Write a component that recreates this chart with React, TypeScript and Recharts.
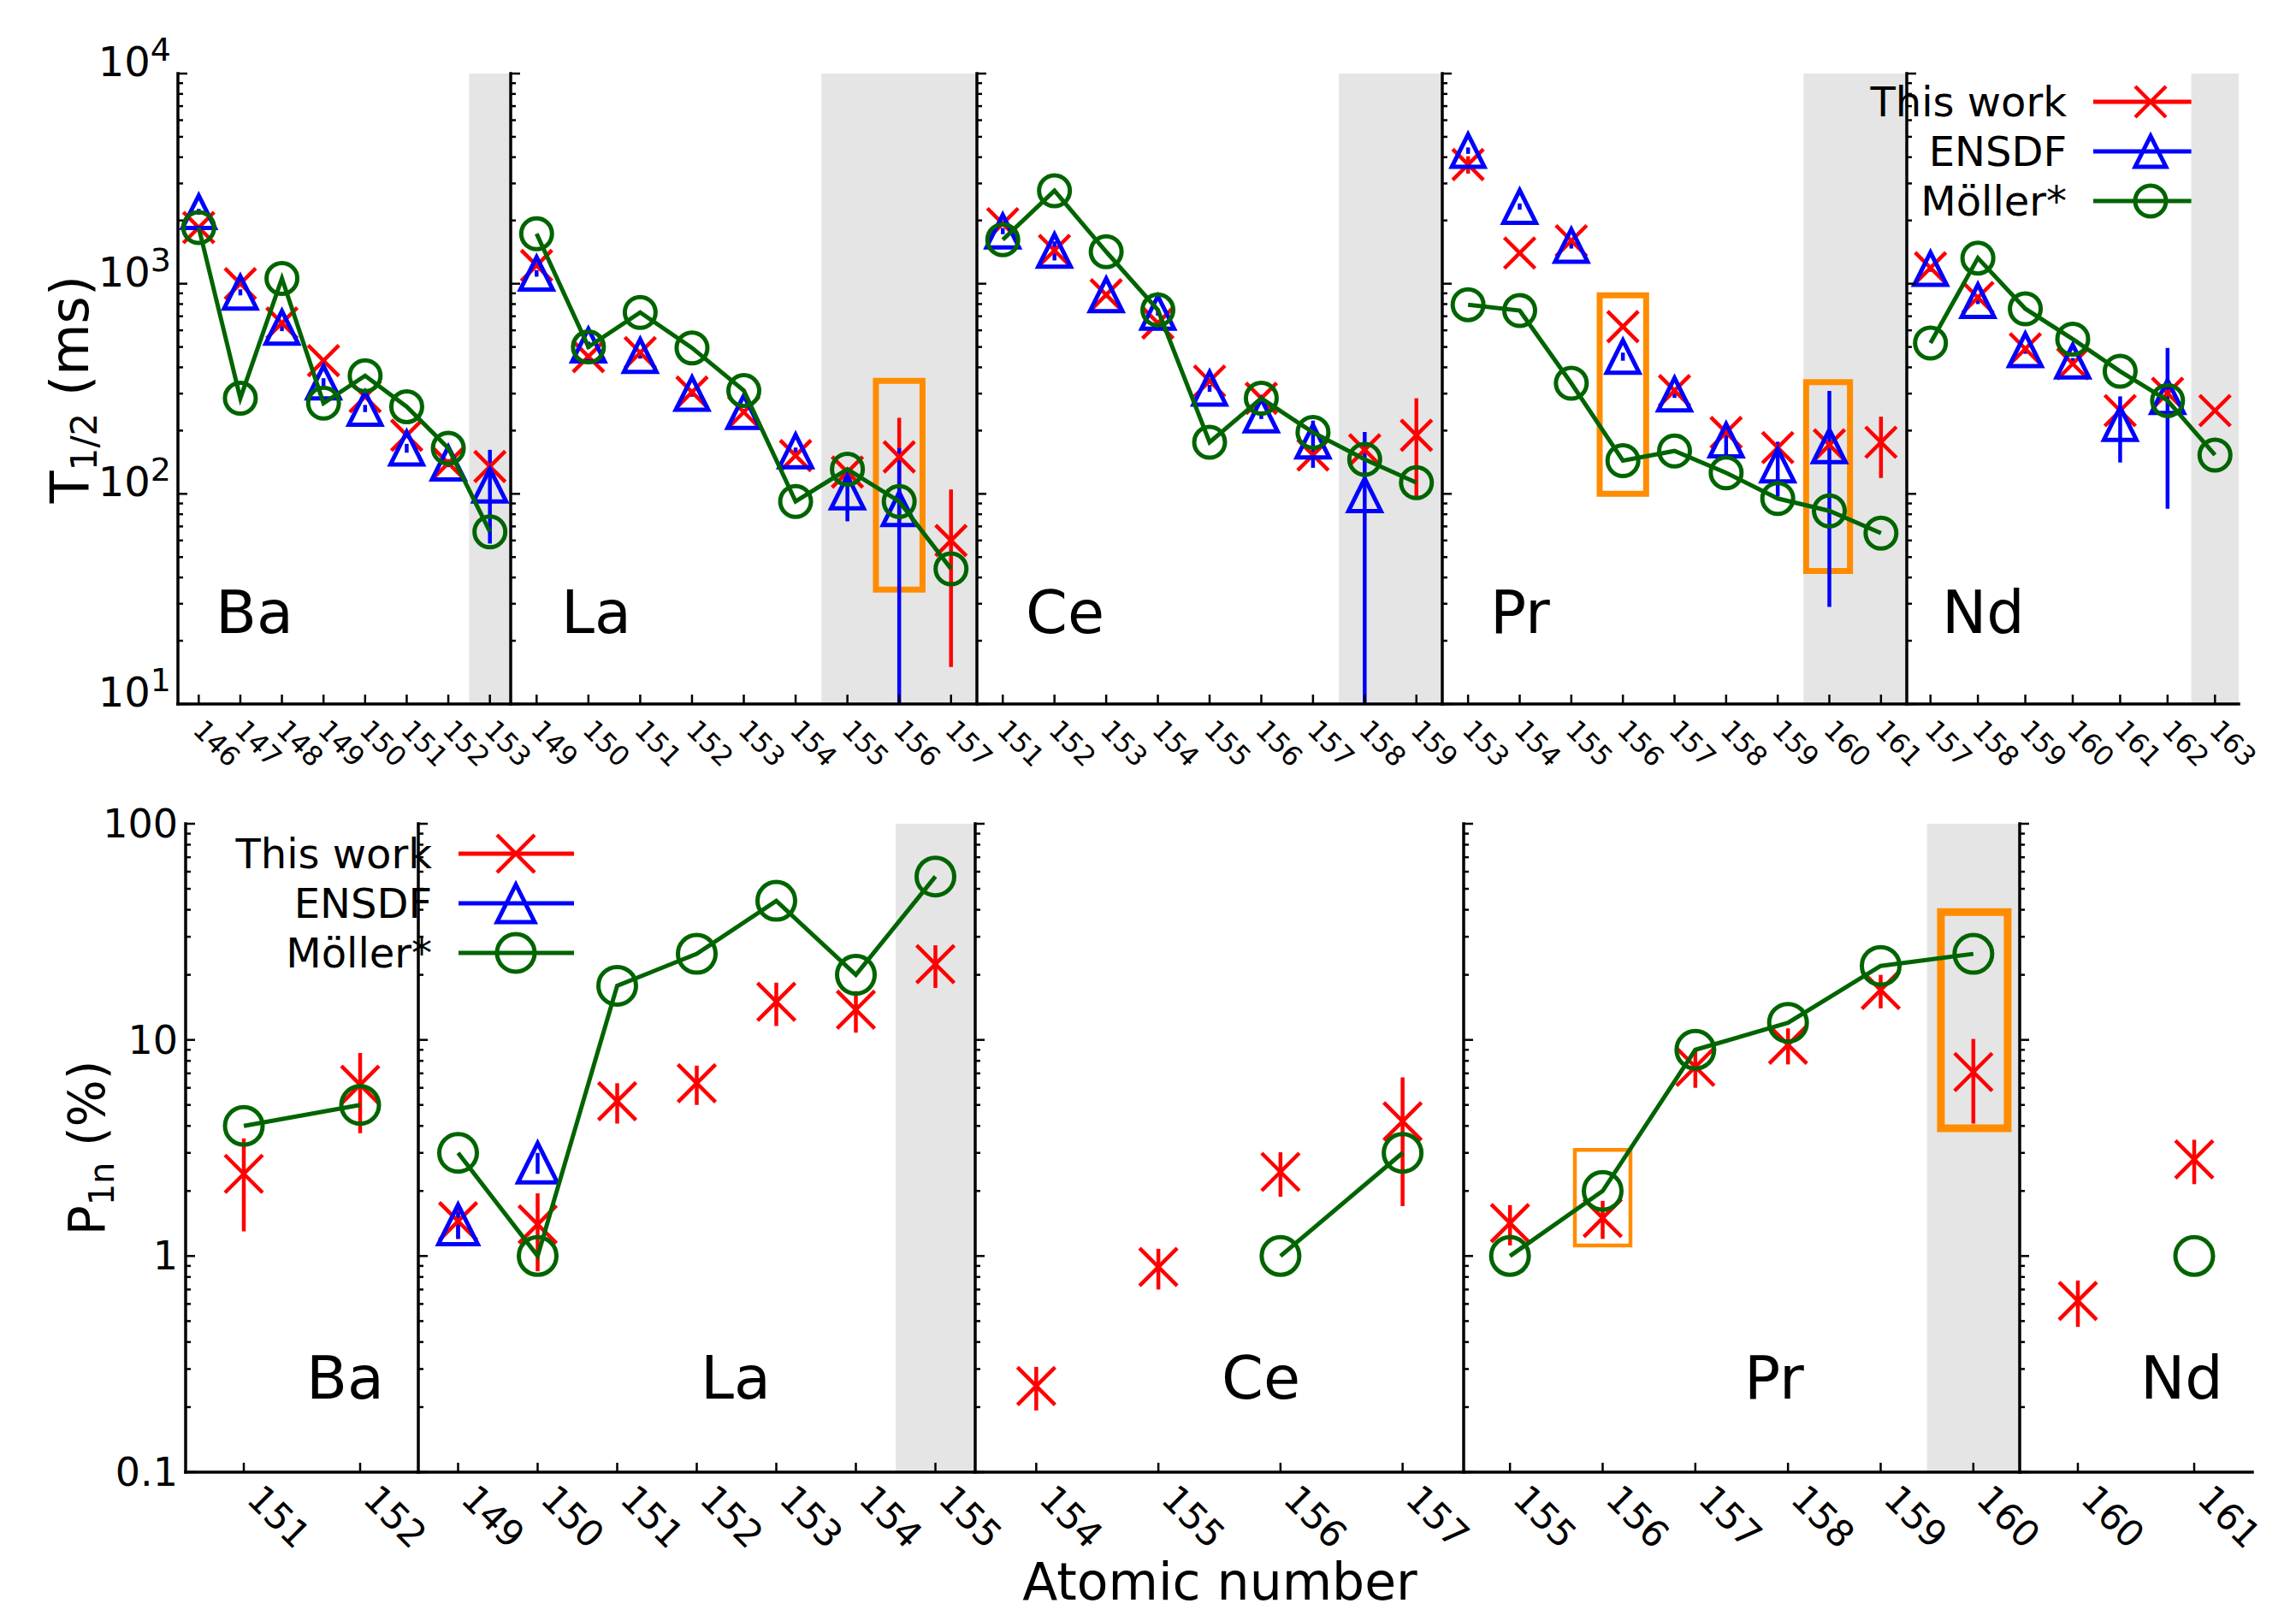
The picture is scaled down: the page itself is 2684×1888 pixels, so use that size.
import React from "react";
import {
  ComposedChart,
  Scatter,
  XAxis,
  YAxis,
  ErrorBar,
  ReferenceArea,
  Customized,
} from "recharts";

const RED = "#ff0000";
const BLUE = "#0000ff";
const GREEN = "#006400";
const ORANGE = "#ff8c00";
const SHADE = "#e5e5e5";
const FONT = "DejaVu Sans";

type Err = number | [number, number] | null;

// ---- top row: half-lives T1/2 (ms)
const BA_T_A = [146, 147, 148, 149, 150, 151, 152, 153];
const BA_T_THIS = [1850, 1000, 650, 430, 290, 190, 140, 135];
const BA_T_THIS_ERR: Err[] = [0, 0, 0, 0, 0, 0, 0, 0];
const BA_T_ENSDF = [2200, 910, 620, 340, 255, 165, 140, 110];
const BA_T_ENSDF_ERR: Err[] = [70, 30, 25, 15, 10, 8, 6, 52];
const BA_T_MOLLER = [1850, 285, 1060, 270, 365, 260, 165, 66];

const LA_T_A = [149, 150, 151, 152, 153, 154, 155, 156, 157];
const LA_T_THIS = [1220, 450, 470, 305, 245, 152, 127, 150, 60];
const LA_T_THIS_ERR: Err[] = [0, 0, 0, 0, 0, 0, 0, 80, 45];
const LA_T_ENSDF = [1120, 510, 455, 300, 246, 160, 102, 85, null];
const LA_T_ENSDF_ERR: Err[] = [40, 20, 15, 10, 8, 6, 28, [75, 80], null];
const LA_T_MOLLER = [1730, 500, 730, 495, 310, 92, 131, 92, 44];

const CE_T_A = [151, 152, 153, 154, 155, 156, 157, 158, 159];
const CE_T_THIS = [1930, 1440, 885, 650, 344, 285, 153, 162, 190];
const CE_T_THIS_ERR: Err[] = [0, 0, 0, 0, 0, 0, 0, 0, 95];
const CE_T_ENSDF = [1780, 1440, 885, 730, 318, 237, 178, 99, null];
const CE_T_ENSDF_ERR: Err[] = [60, 150, 30, 25, 12, 10, 45, [89, 98], null];
const CE_T_MOLLER = [1620, 2770, 1420, 750, 176, 285, 196, 146, 113];

const PR_T_A = [153, 154, 155, 156, 157, 158, 159, 160, 161];
const PR_T_THIS = [3690, 1400, 1600, 625, 310, 196, 166, 171, 176];
const PR_T_THIS_ERR: Err[] = [350, 0, 0, 0, 0, 0, 0, 0, 57];
const PR_T_ENSDF = [4300, 2330, 1520, 450, 298, 180, 137, 169, null];
const PR_T_ENSDF_ERR: Err[] = [150, 80, 50, 20, 12, 30, 40, 140, null];
const PR_T_MOLLER = [795, 745, 336, 144, 160, 126, 95, 83, 65];

const ND_T_A = [157, 158, 159, 160, 161, 162, 163];
const ND_T_THIS = [1190, 860, 490, 416, 249, 301, 249];
const ND_T_THIS_ERR: Err[] = [0, 0, 0, 0, 0, 0, 0];
const ND_T_ENSDF = [1180, 830, 484, 428, 216, 290, null];
const ND_T_ENSDF_ERR: Err[] = [40, 30, 20, 15, 75, 205, null];
const ND_T_MOLLER = [522, 1325, 760, 545, 383, 278, 153];

// ---- bottom row: P1n (%)
const BA_P_A = [151, 152];
const BA_P_THIS = [2.4, 6.2];
const BA_P_THIS_ERR: Err[] = [1.1, 2.5];
const BA_P_MOLLER = [4.0, 5.0];

const LA_P_A = [149, 150, 151, 152, 153, 154, 155];
const LA_P_THIS = [1.45, 1.4, 5.2, 6.3, 15, 13.8, 22.4];
const LA_P_THIS_ERR: Err[] = [0.25, 0.55, 1.1, 1.3, 3.4, 3, 5];
const LA_P_ENSDF = [1.4, 2.7, null, null, null, null, null];
const LA_P_ENSDF_ERR: Err[] = [0.2, 0.3, null, null, null, null, null];
const LA_P_MOLLER = [3.0, 1.0, 17.8, 25, 44, 20, 57];

const CE_P_A = [154, 155, 156, 157];
const CE_P_THIS = [0.25, 0.89, 2.45, 4.2];
const CE_P_THIS_ERR: Err[] = [0.057, 0.19, 0.57, 2.5];
const CE_P_MOLLER = [null, null, 1.0, 3.0];

const PR_P_A = [155, 156, 157, 158, 159, 160];
const PR_P_THIS = [1.42, 1.5, 7.5, 9.5, 17, 7.1];
const PR_P_THIS_ERR: Err[] = [0.3, 0.3, 1.5, 1.8, 3, 3];
const PR_P_MOLLER = [1.0, 2.0, 9.0, 12, 22, 25];

const ND_P_A = [160, 161];
const ND_P_THIS = [0.62, 2.8];
const ND_P_THIS_ERR: Err[] = [0.15, 0.65];
const ND_P_MOLLER = [null, 1.0];

// log axis ticks
const MINOR_STEPS = [1, 2, 3, 4, 5, 6, 7, 8, 9];
const T_DECADES = [10, 100, 1000];
const P_DECADES = [0.1, 1, 10];
const T_TICKS = [...T_DECADES.flatMap((d) => MINOR_STEPS.map((m) => +(d * m).toPrecision(6))), 10000];
const P_TICKS = [...P_DECADES.flatMap((d) => MINOR_STEPS.map((m) => +(d * m).toPrecision(6))), 100];

type Pt = { x: number; y: number; e: number | [number, number] };

function pts(a: number[], v: (number | null)[], e?: Err[]): Pt[] {
  const out: Pt[] = [];
  a.forEach((x, i) => {
    const y = v[i];
    if (y == null) return;
    const err = e && e[i] != null ? (e[i] as number | [number, number]) : 0;
    out.push({ x, y, e: err });
  });
  return out;
}

const XMark = ({ cx, cy, s, w = 4.5 }: any) => (
  <g stroke={RED} strokeWidth={w}>
    <line x1={cx - s} y1={cy - s} x2={cx + s} y2={cy + s} />
    <line x1={cx - s} y1={cy + s} x2={cx + s} y2={cy - s} />
  </g>
);
const TriMark = ({ cx, cy, s }: any) => (
  <polygon
    points={`${cx},${cy - s} ${cx - s},${cy + s} ${cx + s},${cy + s}`}
    fill="none"
    stroke={BLUE}
    strokeWidth={5}
    strokeLinejoin="miter"
  />
);
const CircMark = ({ cx, cy, s }: any) => (
  <circle cx={cx} cy={cy} r={s} fill="none" stroke={GREEN} strokeWidth={5} />
);

const TOP = {
  top: 86,
  bottom: 823,
  domain: [10, 10000],
  ticks: T_TICKS,
  ms: 18,
  xfs: 32,
  xdx: 21,
  xdy: 46,
  nameY: 740,
  label: (v: number, x: number, y: number) => (
    <text x={x - 8} y={y + 3} textAnchor="end" fontSize={48} fontFamily={FONT} fill="#000">
      10
      <tspan dy={-18} fontSize={38}>
        {Math.round(Math.log10(v))}
      </tspan>
    </text>
  ),
};

const BOT = {
  top: 963,
  bottom: 1721,
  domain: [0.1, 100],
  ticks: P_TICKS,
  ms: 22,
  xfs: 43,
  xdx: 41,
  xdy: 52,
  nameY: 1635,
  label: (v: number, x: number, y: number) => (
    <text x={x - 9} y={y} textAnchor="end" dominantBaseline="central" fontSize={46} fontFamily={FONT} fill="#000">
      {String(v)}
    </text>
  ),
};

function XTick(props: any) {
  const { x, y, payload, row, top } = props;
  if (top) return <line x1={x} y1={y} x2={x} y2={y + 11} stroke="#000" strokeWidth={2.5} />;
  return (
    <g>
      <line x1={x} y1={y} x2={x} y2={y - 11} stroke="#000" strokeWidth={2.5} />
      <text
        transform={`translate(${x + row.xdx},${y + row.xdy}) rotate(45)`}
        textAnchor="middle"
        dominantBaseline="central"
        fontSize={row.xfs}
        fontFamily={FONT}
        fill="#000"
      >
        {payload.value}
      </text>
    </g>
  );
}

function YTick(props: any) {
  const { x, y, payload, row, side, showLabel } = props;
  const v = payload.value;
  const lg = Math.log10(v);
  const major = Math.abs(lg - Math.round(lg)) < 1e-6;
  const len = major ? 11 : 6;
  const dir = side === "left" ? 1 : -1;
  return (
    <g>
      <line x1={x} y1={y} x2={x + dir * len} y2={y} stroke="#000" strokeWidth={2.5} />
      {showLabel && major ? row.label(v, x, y) : null}
    </g>
  );
}

function LegendSvg({ x0, ys, s }: { x0: number; ys: number[]; s: number }) {
  const items = [
    { label: "This work", color: RED, M: XMark },
    { label: "ENSDF", color: BLUE, M: TriMark },
    { label: "Möller*", color: GREEN, M: CircMark },
  ];
  const mx = x0 + 98;
  return (
    <g>
      {items.map((it, i) => (
        <g key={it.label}>
          <text x={x0} y={ys[i]} textAnchor="end" dominantBaseline="central" fontSize={48} fontFamily={FONT} fill="#000">
            {it.label}
          </text>
          <line x1={x0 + 31} y1={ys[i]} x2={x0 + 166} y2={ys[i]} stroke={it.color} strokeWidth={5} />
          <it.M cx={mx} cy={ys[i]} s={s} />
        </g>
      ))}
    </g>
  );
}

function PanelName({ x, y, text }: { x: number; y: number; text: string }) {
  return (
    <text x={x} y={y} fontSize={70} fontFamily={FONT} fill="#000">
      {text}
    </text>
  );
}

const TOP_PANELS = [
  {
    name: "Ba", left: 208, right: 597, lo: 145.5, hi: 153.5, ticks: BA_T_A, nameX: 252,
    red: pts(BA_T_A, BA_T_THIS, BA_T_THIS_ERR), blue: pts(BA_T_A, BA_T_ENSDF, BA_T_ENSDF_ERR), green: pts(BA_T_A, BA_T_MOLLER),
    shade: [152.5, 153.5], boxes: [] as number[][], padL: 208, padR: 60, padB: 140,
  },
  {
    name: "La", left: 597, right: 1142, lo: 148.5, hi: 157.5, ticks: LA_T_A, nameX: 656,
    red: pts(LA_T_A, LA_T_THIS, LA_T_THIS_ERR), blue: pts(LA_T_A, LA_T_ENSDF, LA_T_ENSDF_ERR), green: pts(LA_T_A, LA_T_MOLLER),
    shade: [154.5, 157.5], boxes: [[155.55, 156.45, 35, 345, 7]], padL: 20, padR: 60, padB: 140,
  },
  {
    name: "Ce", left: 1142, right: 1686, lo: 150.5, hi: 159.5, ticks: CE_T_A, nameX: 1199,
    red: pts(CE_T_A, CE_T_THIS, CE_T_THIS_ERR), blue: pts(CE_T_A, CE_T_ENSDF, CE_T_ENSDF_ERR), green: pts(CE_T_A, CE_T_MOLLER),
    shade: [157.5, 159.5], boxes: [], padL: 20, padR: 60, padB: 140,
  },
  {
    name: "Pr", left: 1686, right: 2229, lo: 152.5, hi: 161.5, ticks: PR_T_A, nameX: 1742,
    red: pts(PR_T_A, PR_T_THIS, PR_T_THIS_ERR), blue: pts(PR_T_A, PR_T_ENSDF, PR_T_ENSDF_ERR), green: pts(PR_T_A, PR_T_MOLLER),
    shade: [159.5, 161.5], boxes: [[155.55, 156.45, 100, 880, 7], [159.55, 160.4, 43, 340, 7]], padL: 20, padR: 60, padB: 140,
  },
  {
    name: "Nd", left: 2229, right: 2617, lo: 156.5, hi: 163.5, ticks: ND_T_A, nameX: 2270,
    red: pts(ND_T_A, ND_T_THIS, ND_T_THIS_ERR), blue: pts(ND_T_A, ND_T_ENSDF, ND_T_ENSDF_ERR), green: pts(ND_T_A, ND_T_MOLLER),
    shade: [162.5, 163.5], boxes: [], padL: 70, padR: 60, padB: 140,
  },
];

const BOT_PANELS = [
  {
    name: "Ba", left: 217, right: 489, lo: 150.5, hi: 152.5, ticks: BA_P_A, nameX: 358,
    red: pts(BA_P_A, BA_P_THIS, BA_P_THIS_ERR), blue: [] as Pt[], green: pts(BA_P_A, BA_P_MOLLER),
    shade: null as number[] | null, boxes: [] as number[][], padL: 217, padR: 230, padB: 140,
  },
  {
    name: "La", left: 489, right: 1140, lo: 148.5, hi: 155.5, ticks: LA_P_A, nameX: 819,
    red: pts(LA_P_A, LA_P_THIS, LA_P_THIS_ERR), blue: pts(LA_P_A, LA_P_ENSDF, LA_P_ENSDF_ERR), green: pts(LA_P_A, LA_P_MOLLER),
    shade: [154.5, 155.5], boxes: [], padL: 20, padR: 60, padB: 140,
  },
  {
    name: "Ce", left: 1140, right: 1711, lo: 153.5, hi: 157.5, ticks: CE_P_A, nameX: 1428,
    red: pts(CE_P_A, CE_P_THIS, CE_P_THIS_ERR), blue: [], green: pts(CE_P_A, CE_P_MOLLER),
    shade: null, boxes: [], padL: 20, padR: 60, padB: 167,
  },
  {
    name: "Pr", left: 1711, right: 2361, lo: 154.5, hi: 160.5, ticks: PR_P_A, nameX: 2039,
    red: pts(PR_P_A, PR_P_THIS, PR_P_THIS_ERR), blue: [], green: pts(PR_P_A, PR_P_MOLLER),
    shade: [159.5, 160.5], boxes: [[155.7, 156.3, 1.12, 3.1, 4.5], [159.65, 160.37, 3.9, 39, 9]], padL: 20, padR: 60, padB: 140,
  },
  {
    name: "Nd", left: 2361, right: 2633, lo: 159.5, hi: 161.5, ticks: ND_P_A, nameX: 2502,
    red: pts(ND_P_A, ND_P_THIS, ND_P_THIS_ERR), blue: [], green: pts(ND_P_A, ND_P_MOLLER),
    shade: null, boxes: [], padL: 20, padR: 50, padB: 140,
  },
];

const AXIS_LINE = { stroke: "#000", strokeWidth: 3.5, strokeLinecap: "square" as const };

function PanelChart({ p, row, first, overlay }: any) {
  const padT = 60;
  const W = p.right - p.left + p.padL + p.padR;
  const H = row.bottom - row.top + padT + p.padB;
  const ox = p.left - p.padL;
  const oy = row.top - padT;
  const ms = row.ms;
  return (
    <div style={{ position: "absolute", left: ox, top: oy, width: W, height: H }}>
      <ComposedChart width={W} height={H} margin={{ top: padT, right: p.padR, bottom: 0, left: 0 }}>
        <XAxis
          type="number"
          dataKey="x"
          domain={[p.lo, p.hi]}
          ticks={p.ticks}
          allowDataOverflow
          interval={0}
          height={p.padB}
          tickSize={0}
          tickMargin={0}
          tickLine={false}
          axisLine={AXIS_LINE}
          tick={<XTick row={row} />}
        />
        <XAxis
          xAxisId="t"
          orientation="top"
          type="number"
          domain={[p.lo, p.hi]}
          ticks={p.ticks}
          allowDataOverflow
          interval={0}
          height={0}
          tickSize={0}
          tickMargin={0}
          tickLine={false}
          axisLine={AXIS_LINE}
          tick={<XTick row={row} top />}
        />
        <YAxis
          type="number"
          dataKey="y"
          scale="log"
          domain={row.domain}
          ticks={row.ticks}
          allowDataOverflow
          interval={0}
          width={p.padL}
          tickSize={0}
          tickMargin={0}
          tickLine={false}
          axisLine={AXIS_LINE}
          tick={<YTick row={row} side="left" showLabel={first} />}
        />
        <YAxis
          yAxisId="r"
          orientation="right"
          type="number"
          scale="log"
          domain={row.domain}
          ticks={row.ticks}
          allowDataOverflow
          interval={0}
          width={0}
          tickSize={0}
          tickMargin={0}
          tickLine={false}
          axisLine={AXIS_LINE}
          tick={<YTick row={row} side="right" showLabel={false} />}
        />
        {p.shade && (
          <ReferenceArea x1={p.shade[0]} x2={p.shade[1]} fill={SHADE} fillOpacity={1} stroke="none" />
        )}
        <Scatter
          data={p.red}
          isAnimationActive={false}
          shape={(s: any) => <XMark cx={s.cx} cy={s.cy} s={ms} />}
        >
          <ErrorBar dataKey="e" direction="y" width={0} stroke={RED} strokeWidth={4.5} />
        </Scatter>
        {p.blue.length > 0 && (
          <Scatter
            data={p.blue}
            isAnimationActive={false}
            shape={(s: any) => <TriMark cx={s.cx} cy={s.cy} s={ms + 1} />}
          >
            <ErrorBar dataKey="e" direction="y" width={0} stroke={BLUE} strokeWidth={4.5} />
          </Scatter>
        )}
        <Scatter
          data={p.green}
          isAnimationActive={false}
          line={{ stroke: GREEN, strokeWidth: 5 }}
          lineType="joint"
          shape={(s: any) => <CircMark cx={s.cx} cy={s.cy} s={ms} />}
        />
        {p.boxes.map((b: number[], i: number) => (
          <ReferenceArea
            key={i}
            x1={b[0]}
            x2={b[1]}
            y1={b[2]}
            y2={b[3]}
            fill="none"
            fillOpacity={0}
            stroke={ORANGE}
            strokeWidth={b[4]}
            ifOverflow="visible"
          />
        ))}
        <Customized
          component={() => (
            <g transform={`translate(${-ox},${-oy})`}>
              <PanelName x={p.nameX} y={row.nameY} text={p.name} />
              {overlay}
            </g>
          )}
        />
      </ComposedChart>
    </div>
  );
}

const TOP_TITLE = (
  <text x={103} y={455} transform="rotate(-90 103 455)" textAnchor="middle" fontSize={62} fontFamily={FONT} fill="#000">
    T
    <tspan dy={10} fontSize={42}>
      1/2
    </tspan>
    <tspan dy={-10}> (ms)</tspan>
  </text>
);

const BOT_TITLE = (
  <text x={122} y={1342} transform="rotate(-90 122 1342)" textAnchor="middle" fontSize={58} fontFamily={FONT} fill="#000">
    P
    <tspan dy={11} fontSize={40}>
      1n
    </tspan>
    <tspan dy={-11}> (%)</tspan>
  </text>
);

const X_TITLE = (
  <text x={1426} y={1870} textAnchor="middle" fontSize={60} fontFamily={FONT} fill="#000">
    Atomic number
  </text>
);

export default function App() {
  return (
    <div
      style={{
        position: "absolute",
        left: 0,
        top: 0,
        width: 2684,
        height: 1888,
        overflow: "hidden",
        background: "#fff",
        fontFamily: FONT,
      }}
    >
      {TOP_PANELS.map((p, i) => (
        <PanelChart
          key={"t" + i}
          p={p}
          row={TOP}
          first={i === 0}
          overlay={
            i === 0 ? TOP_TITLE : i === 4 ? <LegendSvg x0={2416} ys={[119, 177, 235]} s={18} /> : null
          }
        />
      ))}
      {BOT_PANELS.map((p, i) => (
        <PanelChart
          key={"b" + i}
          p={p}
          row={BOT}
          first={i === 0}
          overlay={
            i === 0 ? (
              <g>
                {BOT_TITLE}
                <LegendSvg x0={505} ys={[998, 1056, 1114]} s={22} />
              </g>
            ) : i === 2 ? (
              X_TITLE
            ) : null
          }
        />
      ))}
    </div>
  );
}
